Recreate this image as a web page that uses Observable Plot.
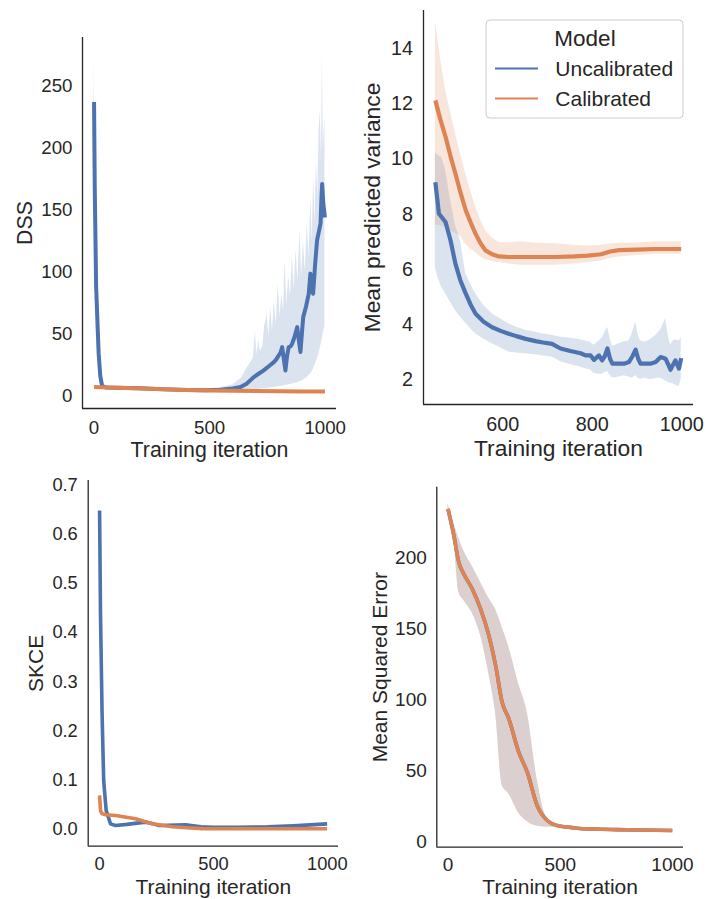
<!DOCTYPE html>
<html>
<head>
<meta charset="utf-8">
<script src="https://cdn.jsdelivr.net/npm/d3@7"></script>
<script src="https://cdn.jsdelivr.net/npm/@observablehq/plot@0.6"></script>
<style>
  body { margin: 0; background: #fff; }
  #root { position: relative; width: 706px; height: 899px; background: #fff; overflow: hidden;
          font-family: "Liberation Sans", Arial, sans-serif; color: #262626; }
  .wrap { position: absolute; }
  .wrap svg { display: block; overflow: visible; }
  #w1 g[aria-label="x-axis label"], #w1 g[aria-label="y-axis label"] { font-size: 21.3px; }
  #w2 g[aria-label="x-axis label"], #w2 g[aria-label="y-axis label"] { font-size: 22.8px; }
  #w3 g[aria-label="x-axis label"], #w3 g[aria-label="y-axis label"] { font-size: 21px; }
  #w4 g[aria-label="x-axis label"], #w4 g[aria-label="y-axis label"] { font-size: 21px; }
</style>
</head>
<body>
<div id="root"></div>
<script>
// ---------------- data ----------------
const models = ["Uncalibrated", "Calibrated"];
const xLabel = "Training iteration";

// DSS panel: mean lines
const dssUncalX    = [0, 3, 9, 20, 27, 35, 50, 100, 200, 300, 400, 480, 547, 600, 634, 660, 691, 712, 734, 756, 778, 790, 799, 807, 814, 821, 828, 835, 842, 850, 857, 868, 879, 886, 893, 899, 905, 917, 929, 936, 942, 948, 956, 965, 972, 980, 984, 987, 992, 999];
const dssUncalMean = [237, 168, 88, 34, 16, 8, 7, 6.8, 6.3, 5.6, 5.0, 4.8, 5.2, 6.2, 7.3, 10, 15.3, 18, 20.7, 24, 27.4, 30, 32.8, 35, 39.5, 30, 20.7, 32, 39.5, 40, 42.2, 48, 55.6, 45, 35.5, 50, 63.7, 72, 82.6, 98.7, 85, 82.6, 105, 125.6, 132, 139, 160, 171, 155, 144];
// DSS panel: uncalibrated band (noisy)
const dssUncalBandX = [0, 3, 9, 20, 27, 35, 50, 100, 200, 300, 400, 480, 547, 600, 620, 640, 660, 675, 690, 698, 705, 712, 720, 730, 738, 749, 756, 764, 772, 780, 788, 797, 805, 812, 820, 826, 834, 842, 850, 858, 866, 874, 882, 891, 898, 906, 914, 922, 930, 938, 944, 950, 956, 962, 968, 974, 979, 984, 988, 992, 996, 999];
const dssUncalLo    = [200, 130, 55, 22, 10, 6, 6, 6, 5.6, 4.9, 4.4, 4.2, 4.3, 4.5, 4.6, 4.8, 5, 5.2, 5.3, 5.4, 5.5, 5.6, 5.8, 6, 6.1, 6.3, 6.5, 6.7, 6.9, 7, 7.2, 7.5, 7.7, 8, 8.2, 8.5, 8.8, 9.1, 9.4, 9.8, 10.2, 10.6, 11, 11.5, 12, 13, 14, 15, 16.5, 18, 20, 22, 25, 28, 31, 35, 39, 43, 47, 51, 54, 56];
const dssUncalHi    = [276, 215, 125, 48, 24, 11, 8.5, 7.5, 7, 6.3, 5.8, 5.8, 7, 9, 12, 15, 22, 26, 31, 52, 33, 45, 36, 40, 56, 66, 48, 72, 52, 76, 58, 90, 64, 82, 68, 109, 74, 96, 80, 112, 86, 118, 92, 134, 96, 125, 100, 140, 112, 160, 125, 177, 140, 190, 160, 215, 230, 190, 276, 200, 215, 225];
const dssCalX      = [0, 100, 200, 300, 400, 500, 600, 700, 800, 900, 999];
const dssCalMean   = [7.3, 6.8, 6.2, 5.5, 5.0, 4.6, 4.3, 4.1, 3.9, 3.8, 3.8];
const dssCalLo     = [6.8, 6.3, 5.7, 5.0, 4.5, 4.1, 3.8, 3.6, 3.4, 3.3, 3.3];
const dssCalHi     = [7.8, 7.3, 6.7, 6.0, 5.5, 5.1, 4.8, 4.6, 4.4, 4.3, 4.3];

// Mean predicted variance panel
const varUncalX    = [449, 453, 457, 463, 472, 483, 494, 505, 517, 528, 539, 557, 576, 595, 613, 630, 651, 673, 690, 710, 729, 751, 774, 785, 796, 804, 815, 822, 828, 834, 840, 845, 860, 871, 882, 890, 897, 903, 908, 919, 930, 942, 953, 964, 970, 975, 981, 986, 994, 999];
const varUncalMean = [9.16, 8.6, 8.02, 7.9, 7.71, 7.05, 6.2, 5.6, 5.12, 4.72, 4.39, 4.1, 3.9, 3.77, 3.67, 3.58, 3.48, 3.4, 3.35, 3.3, 3.13, 3.04, 2.96, 2.88, 2.88, 2.72, 2.88, 2.70, 2.85, 3.13, 2.75, 2.58, 2.58, 2.58, 2.64, 2.85, 3.09, 2.75, 2.58, 2.58, 2.58, 2.64, 2.82, 2.76, 2.55, 2.36, 2.55, 2.70, 2.40, 2.78];
const varUncalLo   = [6.08, 5.8, 5.6, 5.35, 5.12, 4.8, 4.5, 4.27, 4.05, 3.85, 3.67, 3.48, 3.3, 3.15, 3.0, 2.97, 2.94, 2.9, 2.86, 2.82, 2.65, 2.55, 2.45, 2.4, 2.35, 2.22, 2.2, 2.2, 2.25, 2.3, 2.15, 2.06, 2.1, 2.14, 2.1, 2.05, 2.15, 2.05, 2.02, 2.05, 2.0, 2.03, 2.06, 1.95, 1.9, 1.86, 1.85, 1.8, 1.75, 2.02];
const varUncalHi   = [10.2, 10.19, 10.1, 10.07, 9.6, 8.5, 7.6, 7.05, 5.84, 5.45, 5.12, 4.7, 4.39, 4.2, 4.03, 3.9, 3.79, 3.72, 3.66, 3.61, 3.54, 3.5, 3.45, 3.4, 3.35, 3.25, 3.4, 3.5, 3.7, 3.91, 3.5, 3.2, 3.3, 3.37, 3.4, 3.7, 4.09, 3.6, 3.4, 3.37, 3.45, 3.6, 3.8, 4.21, 3.6, 3.25, 3.4, 3.45, 3.4, 3.54];
const varCalX      = [449, 460, 472, 483, 494, 505, 517, 528, 539, 550, 561, 576, 591, 613, 640, 680, 718, 760, 790, 820, 840, 860, 900, 940, 999];
const varCalMean   = [12.13, 11.45, 10.8, 10.1, 9.47, 8.8, 8.14, 7.7, 7.29, 6.95, 6.69, 6.55, 6.47, 6.45, 6.45, 6.45, 6.45, 6.47, 6.5, 6.55, 6.65, 6.7, 6.72, 6.74, 6.74];
const varCalLo     = [7.6, 7.6, 7.5, 7.4, 7.3, 7.2, 6.9, 6.75, 6.6, 6.45, 6.35, 6.28, 6.25, 6.2, 6.15, 6.15, 6.15, 6.2, 6.25, 6.3, 6.4, 6.45, 6.5, 6.55, 6.55];
const varCalHi     = [15.0, 13.7, 12.49, 11.7, 10.92, 10.2, 9.47, 8.85, 8.26, 7.8, 7.41, 7.15, 6.98, 6.97, 6.99, 6.95, 6.93, 6.88, 6.85, 6.88, 6.92, 6.95, 6.96, 7.0, 7.0];

// SKCE panel
const skceUncalX    = [0, 4, 11, 18, 29, 48, 70, 120, 201, 230, 260, 300, 377, 446, 500, 600, 738, 850, 999];
const skceUncalMean = [0.649, 0.438, 0.234, 0.098, 0.037, 0.010, 0.0068, 0.009, 0.0136, 0.011, 0.0068, 0.007, 0.008, 0.004, 0.003, 0.003, 0.004, 0.006, 0.01];
const skceUncalLo   = [0.62, 0.41, 0.21, 0.085, 0.031, 0.007, 0.0045, 0.0065, 0.011, 0.0085, 0.0045, 0.005, 0.006, 0.002, 0.0015, 0.0015, 0.0025, 0.0045, 0.0085];
const skceUncalHi   = [0.678, 0.465, 0.258, 0.11, 0.043, 0.013, 0.009, 0.0115, 0.016, 0.0135, 0.009, 0.009, 0.01, 0.006, 0.0045, 0.0045, 0.0055, 0.0075, 0.012];
const skceCalX      = [0, 4, 10, 26, 70, 158, 231, 319, 400, 450, 500, 600, 700, 800, 900, 999];
const skceCalMean   = [0.068, 0.037, 0.031, 0.0285, 0.0272, 0.0204, 0.0102, 0.0041, 0.0015, 0.0003, 0, 0, 0, 0, 0, 0];
const skceCalLo     = [0.062, 0.033, 0.028, 0.026, 0.025, 0.018, 0.008, 0.003, 0.0008, 0, -0.0005, -0.0005, -0.0005, -0.0005, -0.0005, -0.0005];
const skceCalHi     = [0.078, 0.041, 0.034, 0.031, 0.0295, 0.0225, 0.0122, 0.0055, 0.0025, 0.001, 0.0005, 0.0005, 0.0005, 0.0005, 0.0005, 0.0005];

// Mean squared error panel (both models coincide)
const mseX    = [0, 26, 48, 70, 108, 145, 182, 212, 241, 271, 315, 353, 397, 442, 486, 530, 575, 650, 750, 850, 999];
const mseMean = [234.5, 215.7, 196.9, 188.7, 178.1, 164, 145.2, 124.1, 98.2, 86.5, 63, 48.9, 25.4, 14.8, 11.3, 10.2, 9.4, 8.8, 8.4, 8.1, 7.8];
const mseLo   = [232, 214, 175.8, 170, 161, 145.2, 118, 90, 39.5, 33.5, 20, 14, 10.8, 10, 9.9, 9.5, 9.0, 8.5, 8.1, 7.8, 7.5];
const mseHi   = [238, 224, 214, 205, 194, 182.7, 171.5, 163.5, 151, 137, 111, 91, 44, 16, 12.3, 10.8, 9.8, 9.2, 8.8, 8.5, 8.2];

// tick labels
const ticksIter = [0, 500, 1000];
const ticksIterVar = [600, 800, 1000];
const ticksDSS = [0, 50, 100, 150, 200, 250];
const ticksVar = [2, 4, 6, 8, 10, 12, 14];
const ticksSKCE = [0, 0.1, 0.2, 0.3, 0.4, 0.5, 0.6, 0.7];
const ticksMSE = [0, 50, 100, 150, 200];

// ---------------- drawing ----------------
const palette = {Uncalibrated: "#4c72b0", Calibrated: "#dd8452"};
const ink = "#262626";
const fontFamily = '"Liberation Sans", Arial, sans-serif';

const lineRows = (xs, ys) => xs.map((x, i) => ({x, y: ys[i]}));
const bandRows = (xs, lo, hi) => xs.map((x, i) => ({x, lo: lo[i], hi: hi[i]}));

const root = document.getElementById("root");

function panel(cfg) {
  const curve = cfg.curve || "linear";
  const marks = [];
  for (const s of cfg.series) {
    marks.push(Plot.areaY(s.band, {x: "x", y1: "lo", y2: "hi", fill: palette[s.model], fillOpacity: 0.2, curve}));
  }
  for (const s of cfg.series) {
    marks.push(Plot.lineY(s.line, {x: "x", y: "y", stroke: palette[s.model], strokeWidth: cfg.lw,
      strokeLinejoin: "round", strokeLinecap: "butt", curve}));
  }
  marks.push(Plot.ruleX([cfg.xDomain[0]], {stroke: ink, strokeWidth: 1.3}));
  marks.push(Plot.ruleY([cfg.yDomain[0]], {stroke: ink, strokeWidth: 1.3}));
  marks.push(Plot.axisX({ticks: cfg.xTicks, tickSize: 0, tickPadding: cfg.xPad, tickFormat: d3.format("d"),
    label: xLabel, labelAnchor: "center", labelOffset: cfg.xLabelOffset, labelArrow: "none"}));
  marks.push(Plot.axisY({ticks: cfg.yTicks, tickSize: 0, tickPadding: cfg.yPad, tickFormat: cfg.yFormat,
    label: cfg.yLabel, labelAnchor: "center", labelOffset: cfg.yLabelOffset, labelArrow: "none"}));

  const svg = Plot.plot({
    width: cfg.w, height: cfg.h,
    marginTop: cfg.m[0], marginRight: cfg.m[1], marginBottom: cfg.m[2], marginLeft: cfg.m[3],
    x: {domain: cfg.xDomain, axis: null},
    y: {domain: cfg.yDomain, axis: null},
    style: {fontFamily, fontSize: cfg.fs + "px", color: ink, background: "transparent", overflow: "visible"},
    marks
  });
  const wrap = document.createElement("div");
  wrap.className = "wrap";
  wrap.id = cfg.id;
  wrap.style.left = cfg.left + "px";
  wrap.style.top = cfg.top + "px";
  wrap.appendChild(svg);
  root.appendChild(wrap);
}

panel({
  id: "w1", left: 0, top: 0, w: 353, h: 460, m: [37, 17, 52, 82],
  xDomain: [-50, 1049], yDomain: [-10, 289], xTicks: ticksIter, yTicks: ticksDSS,
  yFormat: d3.format("d"), yLabel: "DSS", fs: 18.7, lw: 4,
  xPad: 12, yPad: 10, xLabelOffset: 48, yLabelOffset: 66,
  series: [
    {model: models[0], line: lineRows(dssUncalX, dssUncalMean), band: bandRows(dssUncalBandX, dssUncalLo, dssUncalHi)},
    {model: models[1], line: lineRows(dssCalX, dssCalMean), band: bandRows(dssCalX, dssCalLo, dssCalHi)}
  ]
});

panel({
  id: "w2", left: 353, top: 0, w: 353, h: 460, m: [10, 13, 56, 70],
  xDomain: [422.5, 1026.5], yDomain: [1.1, 15.39], xTicks: ticksIterVar, yTicks: ticksVar,
  yFormat: d3.format("d"), yLabel: "Mean predicted variance", fs: 19.8, lw: 4.2,
  xPad: 12, yPad: 10.5, xLabelOffset: 51, yLabelOffset: 60,
  series: [
    {model: models[0], line: lineRows(varUncalX, varUncalMean), band: bandRows(varUncalX, varUncalLo, varUncalHi)},
    {model: models[1], line: lineRows(varCalX, varCalMean), band: bandRows(varCalX, varCalLo, varCalHi)}
  ]
});

panel({
  id: "w3", left: 0, top: 460, w: 353, h: 439, m: [20, 15, 53.3, 87.7],
  xDomain: [-50, 1049], yDomain: [-0.0355, 0.7102], xTicks: ticksIter, yTicks: ticksSKCE,
  yFormat: d3.format(".1f"), yLabel: "SKCE", fs: 18.3, lw: 3.6,
  xPad: 11, yPad: 10.4, xLabelOffset: 47.5, yLabelOffset: 60,
  series: [
    {model: models[0], line: lineRows(skceUncalX, skceUncalMean), band: bandRows(skceUncalX, skceUncalLo, skceUncalHi)},
    {model: models[1], line: lineRows(skceCalX, skceCalMean), band: bandRows(skceCalX, skceCalLo, skceCalHi)}
  ]
});

panel({
  id: "w4", left: 353, top: 460, w: 353, h: 439, m: [26.7, 23, 52.3, 83.3],
  xDomain: [-50, 1049], yDomain: [-4, 249.8], xTicks: ticksIter, yTicks: ticksMSE,
  yFormat: d3.format("d"), yLabel: "Mean Squared Error", fs: 19, lw: 3.6, curve: "monotone-x",
  xPad: 10, yPad: 10, xLabelOffset: 46.5, yLabelOffset: 65,
  series: [
    {model: models[0], line: lineRows(mseX, mseMean), band: bandRows(mseX, mseLo, mseHi)},
    {model: models[1], line: lineRows(mseX, mseMean), band: bandRows(mseX, mseLo, mseHi)}
  ]
});

// ---------------- legend (inside the variance panel) ----------------
const legend = d3.create("svg")
  .attr("width", 199).attr("height", 100)
  .style("position", "absolute").style("left", "485px").style("top", "19px")
  .style("font-family", fontFamily).style("overflow", "visible");
legend.append("rect").attr("x", 1).attr("y", 1).attr("width", 197).attr("height", 98)
  .attr("rx", 4).attr("fill", "#fff").attr("fill-opacity", 0.8)
  .attr("stroke", "#cccccc").attr("stroke-width", 1);
legend.append("text").attr("x", 100).attr("y", 26.5).attr("text-anchor", "middle")
  .attr("font-size", 22.5).attr("fill", ink).text("Model");
models.forEach((m, i) => {
  const cy = 49.5 + i * 30;
  legend.append("line").attr("x1", 10).attr("x2", 53).attr("y1", cy).attr("y2", cy)
    .attr("stroke", palette[m]).attr("stroke-width", 2);
  legend.append("text").attr("x", 70.3).attr("y", 57 + i * 30)
    .attr("font-size", 21).attr("fill", ink).text(m);
});
root.appendChild(legend.node());
</script>
</body>
</html>
